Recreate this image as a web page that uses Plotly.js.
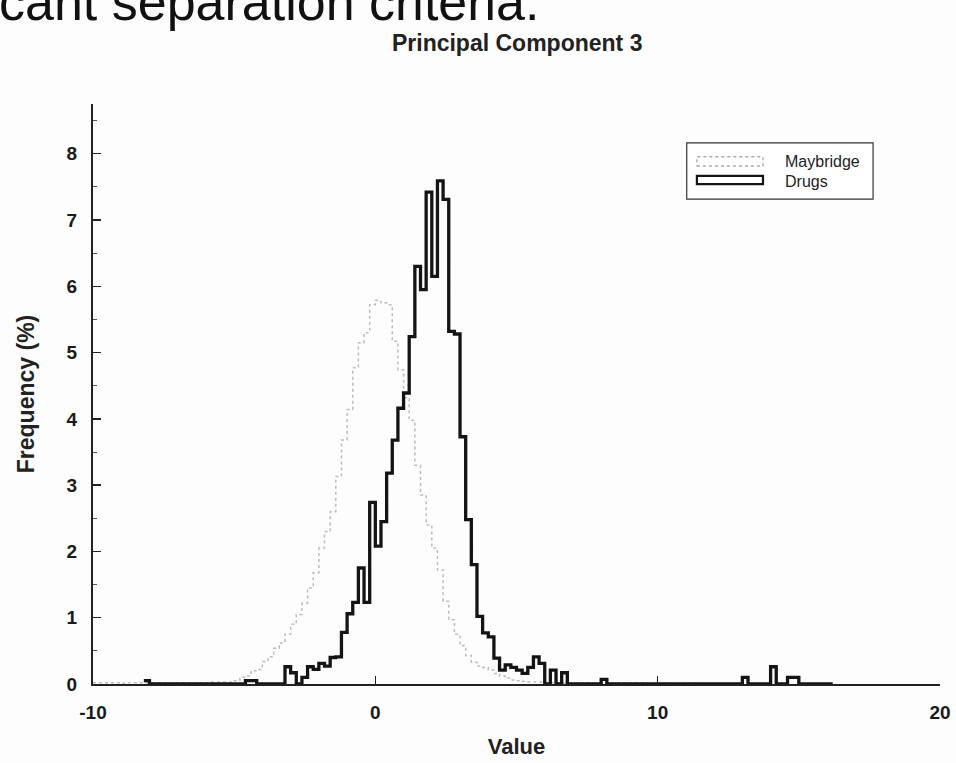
<!DOCTYPE html>
<html>
<head>
<meta charset="utf-8">
<script src="https://cdn.plot.ly/plotly-3.0.1.min.js"></script>
<style>
html,body{margin:0;padding:0;background:#fdfdfd;}
#chart{width:956px;height:763px;}
</style>
</head>
<body>
<div id="chart"></div>
<script>
// ---- data (histogram frequencies in %, bin width 0.2) ----
const binWidth = 0.2;
const xTicks = [-10, 0, 10, 20];
const seriesNames = ["Maybridge", "Drugs"];

// Maybridge: bins starting at -10
const maybridgeStart = -10;
const maybridge = [
  0.02,0.02,0.02,0.02,0.02,0.01,0.02,0.02,0.02,0.02,
  0.02,0.02,0.02,0.02,0.02,0.02,0.02,0.02,0.02,0.02,
  0.02,0.03,0.03,0.03,0.03,0.05,0.10,0.12,0.20,0.22,
  0.34,0.41,0.54,0.62,0.75,0.90,1.05,1.22,1.45,1.68,
  2.05,2.30,2.60,3.13,3.68,4.14,4.77,5.15,5.30,5.72,
  5.79,5.75,5.72,5.17,4.74,4.32,3.98,3.30,2.85,2.40,
  2.05,1.72,1.25,0.97,0.75,0.58,0.43,0.33,0.27,0.25,
  0.21,0.16,0.12,0.09,0.06,0.05,0.04,0.03,0.03,0.03,
  0.02,0.02,0.02,0.02,0.02,0.02,0.02,0.02,0.02,0.02,
  0.02,0.02,0.02,0.02,0.02,0.02,0.02,0.02,0.01,0.01,
  0.01,0.01,0.01,0.01,0.01,0.01,0.01,0.01
];

// Drugs: bins starting at -8.2
const drugsStart = -8.2;
const drugs = [
  0.05,0,0,0,0,0,0,0,0,0,
  0,0,0,0,0,0,0,0,0.05,0.05,
  0,0,0,0,0,0.26,0.17,0,0.10,0.26,
  0.22,0.31,0.27,0.40,0.41,0.78,1.06,1.23,1.75,1.23,
  2.74,2.08,2.45,3.18,3.68,4.16,4.39,5.24,6.30,5.95,
  7.42,6.15,7.59,7.31,5.32,5.28,3.73,2.48,1.80,1.02,
  0.77,0.71,0.39,0.21,0.29,0.25,0.21,0.16,0.25,0.41,
  0.31,0,0.21,0,0.17,0,0,0,0,0,
  0,0.07,0,0,0,0,0,0,0,0,
  0,0,0,0,0,0,0,0,0,0,
  0,0,0,0,0,0,0.10,0,0,0,
  0,0.26,0,0,0.10,0.10,0,0,0,0,
  0,0
];

function stepXY(start, vals){
  const xs = [], ys = [];
  for (let i = 0; i < vals.length; i++){ xs.push(start + i*binWidth); ys.push(vals[i]); }
  xs.push(start + vals.length*binWidth); ys.push(0);
  return {x: xs, y: ys};
}

const mb = stepXY(maybridgeStart, maybridge);
const dr = stepXY(drugsStart, drugs);

const FONT = "Liberation Sans, Arial, Helvetica, sans-serif";

const traces = [
  {type:"scatter", mode:"lines", name:seriesNames[0], x:mb.x, y:mb.y,
   line:{shape:"hv", color:"#bdbdbd", width:1.5, dash:"dot"}, showlegend:false, hoverinfo:"x+y"},
  {type:"scatter", mode:"lines", name:seriesNames[1], x:dr.x, y:dr.y,
   line:{shape:"hv", color:"#141414", width:3.3}, showlegend:false, hoverinfo:"x+y"}
];

// legend geometry in paper coords
const L = {x0:0.701, x1:0.921, y0:0.836, y1:0.933};

const layout = {
  width:956, height:763,
  margin:{l:93, r:16, t:104, b:79, pad:0},
  paper_bgcolor:"#fdfdfd", plot_bgcolor:"#fdfdfd",
  font:{family:FONT, color:"#222"},
  title:{text:"Principal Component 3", x:0.541, xanchor:"center", xref:"container",
         y:0.944, yanchor:"middle", yref:"container",
         font:{family:FONT, size:23, weight:"bold", color:"#222"}},
  xaxis:{range:[-10,20], tickmode:"array", tickvals:xTicks, ticktext:xTicks.map(String),
         ticks:"inside", ticklen:8, tickwidth:1.5, tickcolor:"#222",
         showline:true, linecolor:"#222", linewidth:1.5, showgrid:false, zeroline:false,
         ticklabelstandoff:11,
         tickfont:{family:FONT, size:19, weight:"bold", color:"#1a1a1a"},
         title:{text:"Value", standoff:16, font:{family:FONT, size:22, weight:"bold", color:"#222"}}},
  yaxis:{range:[0,8.75], dtick:1, tick0:0,
         ticks:"inside", ticklen:8, tickwidth:1.5, tickcolor:"#222",
         minor:{dtick:0.5, ticks:"inside", ticklen:4, tickwidth:1, tickcolor:"#555"},
         showline:true, linecolor:"#222", linewidth:2, showgrid:false, zeroline:false,
         ticklabelstandoff:10,
         tickfont:{family:FONT, size:19, weight:"bold", color:"#1a1a1a"},
         title:{text:"Frequency (%)", standoff:26, font:{family:FONT, size:23, weight:"bold", color:"#222"}}},
  shapes:[
    {type:"rect", xref:"paper", yref:"paper", x0:L.x0, x1:L.x1, y0:L.y0, y1:L.y1,
     line:{color:"#333", width:1.2}, fillcolor:"#ffffff", layer:"above"},
    {type:"rect", xref:"paper", yref:"paper", x0:0.713, x1:0.791, y0:0.893, y1:0.909,
     line:{color:"#aaaaaa", width:1.4, dash:"dot"}, fillcolor:"rgba(0,0,0,0)", layer:"above"},
    {type:"rect", xref:"paper", yref:"paper", x0:0.713, x1:0.791, y0:0.862, y1:0.876,
     line:{color:"#151515", width:2.2}, fillcolor:"rgba(0,0,0,0)", layer:"above"}
  ],
  annotations:[
    {text:seriesNames[0], xref:"paper", yref:"paper", x:0.8146, y:0.901, xanchor:"left", yanchor:"middle",
     showarrow:false, font:{family:FONT, size:16, color:"#222"}},
    {text:seriesNames[1], xref:"paper", yref:"paper", x:0.8146, y:0.866, xanchor:"left", yanchor:"middle",
     showarrow:false, font:{family:FONT, size:16, color:"#222"}},
    {text:"cant separation criteria.", xref:"paper", yref:"paper", x:-0.113, y:1.122,
     xanchor:"left", yanchor:"bottom", showarrow:false,
     font:{family:FONT, size:52, color:"#111"}}
  ]
};

Plotly.newPlot("chart", traces, layout, {displayModeBar:false, staticPlot:true});
</script>
</body>
</html>
